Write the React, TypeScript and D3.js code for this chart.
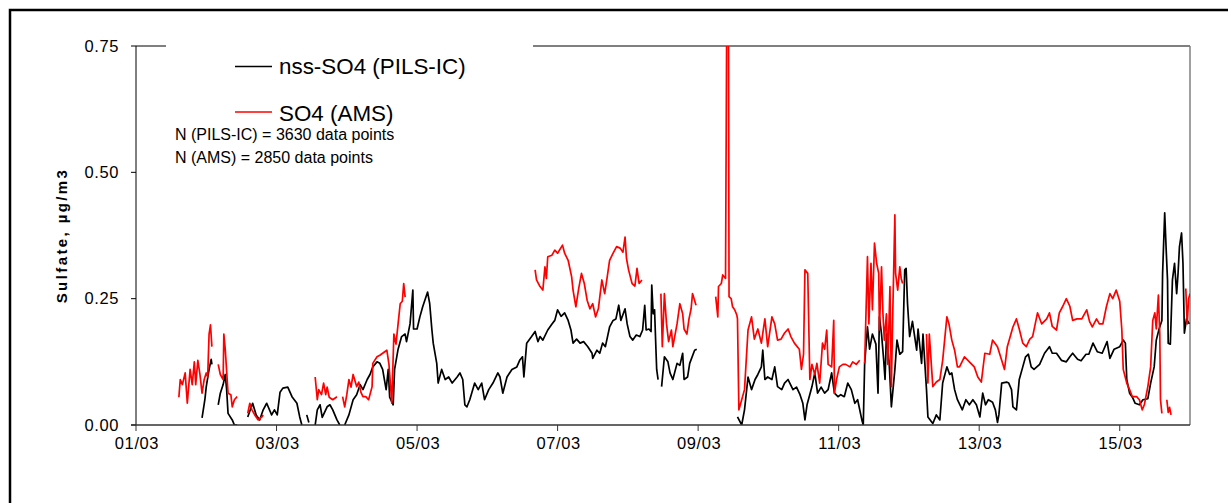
import React from 'react';
import * as d3 from 'd3';

type Pt = [number, number] | null;

// day offsets from 01/03 00:00, value in µg/m3; null = gap
const startDate = Date.UTC(2007, 2, 1);
const endDay = 15;
const yTicks = [0, 0.25, 0.5, 0.75];
const xTickDays = [0, 2, 4, 6, 8, 10, 12, 14];
const seriesNames = ['nss-SO4 (PILS-IC)', 'SO4 (AMS)'];
const seriesColors = ['#000000', '#ff0000'];
const notes = ['N (PILS-IC) = 3630 data points', 'N (AMS) = 2850 data points'];
const yTitle = 'Sulfate, µg/m3';

const pilsIC: Pt[] = [
  [0.94, 0.014], [0.98, 0.05], [1.0, 0.076], [1.04, 0.11], [1.07, 0.13], [1.08, 0.12], null,
  [1.17, 0.04], [1.2, 0.063], [1.24, 0.08], [1.27, 0.1], [1.29, 0.07], [1.31, 0.023], [1.37, 0.01], [1.4, 0.0], [1.44, 0.0], null,
  [1.59, 0.016], [1.66, 0.043], [1.71, 0.02], [1.76, 0.01], [1.81, 0.03], [1.86, 0.043], [1.93, 0.02], [1.97, 0.03], [2.01, 0.02],
  [2.05, 0.065], [2.09, 0.073], [2.16, 0.075], [2.22, 0.056], [2.29, 0.043], [2.33, 0.016], [2.36, 0.0], null,
  [2.43, 0.02], [2.46, 0.005], null,
  [2.55, 0.0], [2.58, 0.03], [2.62, 0.04], [2.65, 0.015], [2.72, 0.036], [2.76, 0.04], [2.8, 0.03], [2.86, 0.01], [2.9, 0.0], null,
  [2.97, 0.0], [3.03, 0.02], [3.09, 0.05], [3.14, 0.06], [3.19, 0.08], [3.23, 0.07], [3.29, 0.09], [3.33, 0.1], [3.37, 0.115],
  [3.43, 0.125], [3.47, 0.122], [3.51, 0.11], [3.56, 0.07], [3.59, 0.11], [3.61, 0.055], [3.66, 0.04], [3.68, 0.11], [3.73, 0.15],
  [3.78, 0.175], [3.83, 0.18], [3.85, 0.165], [3.9, 0.2], [3.94, 0.267], [3.95, 0.19], [4.0, 0.19], [4.04, 0.214], [4.08, 0.234],
  [4.15, 0.263], [4.18, 0.24], [4.21, 0.19], [4.23, 0.162], [4.28, 0.122], [4.3, 0.083], [4.35, 0.11], [4.4, 0.09], [4.45, 0.095],
  [4.5, 0.083], [4.57, 0.095], [4.61, 0.103], [4.65, 0.09], [4.68, 0.04], [4.71, 0.036], [4.75, 0.05], [4.82, 0.083], [4.87, 0.07],
  [4.92, 0.083], [4.96, 0.05], [5.02, 0.07], [5.08, 0.083], [5.15, 0.103], [5.18, 0.095], [5.22, 0.063], [5.28, 0.095], [5.35, 0.11],
  [5.42, 0.115], [5.46, 0.128], [5.5, 0.135], [5.52, 0.095], [5.56, 0.162], [5.63, 0.175], [5.68, 0.185], [5.72, 0.165], [5.75, 0.175],
  [5.79, 0.168], [5.86, 0.188], [5.92, 0.2], [5.96, 0.207], [6.0, 0.228], [6.05, 0.215], [6.1, 0.222], [6.15, 0.207], [6.19, 0.188],
  [6.22, 0.162], [6.27, 0.17], [6.32, 0.162], [6.37, 0.165], [6.43, 0.155], [6.49, 0.142], [6.5, 0.132], [6.56, 0.148], [6.6, 0.142],
  [6.64, 0.162], [6.68, 0.155], [6.74, 0.194], [6.79, 0.207], [6.83, 0.21], [6.87, 0.237], [6.9, 0.207], [6.96, 0.23], [6.99, 0.2],
  [7.03, 0.175], [7.07, 0.168], [7.12, 0.178], [7.17, 0.175], [7.21, 0.188], [7.24, 0.237], [7.26, 0.188], [7.3, 0.19], [7.33, 0.185],
  [7.34, 0.277], [7.36, 0.22], [7.38, 0.228], [7.4, 0.148], [7.41, 0.11], [7.43, 0.09], null,
  [7.48, 0.076], [7.52, 0.135], [7.57, 0.125], [7.6, 0.103], [7.64, 0.09], [7.7, 0.122], [7.74, 0.118], [7.78, 0.142], [7.8, 0.09],
  [7.85, 0.095], [7.88, 0.122], [7.95, 0.148], [7.98, 0.15], null,
  [8.56, 0.016], [8.62, 0.0], [8.66, 0.03], [8.71, 0.095], [8.76, 0.07], [8.81, 0.09], [8.85, 0.1], [8.9, 0.115], [8.92, 0.148],
  [8.95, 0.09], [8.99, 0.095], [9.05, 0.09], [9.09, 0.115], [9.13, 0.076], [9.19, 0.07], [9.23, 0.083], [9.28, 0.09], [9.35, 0.07],
  [9.4, 0.075], [9.45, 0.06], [9.49, 0.043], [9.52, 0.01], [9.55, 0.04], [9.62, 0.076], [9.66, 0.103], [9.7, 0.063], [9.75, 0.075],
  [9.8, 0.063], [9.85, 0.07], [9.9, 0.103], [9.94, 0.063], [9.99, 0.056], [10.03, 0.06], [10.08, 0.056], [10.13, 0.083], [10.18, 0.07],
  [10.23, 0.043], [10.27, 0.05], [10.33, 0.01], [10.35, 0.0], [10.37, 0.122], [10.41, 0.194], [10.44, 0.15], [10.48, 0.18], [10.53, 0.16],
  [10.56, 0.063], [10.58, 0.214], [10.61, 0.18], [10.64, 0.13], [10.66, 0.09], [10.68, 0.18], [10.72, 0.12], [10.75, 0.036], [10.8, 0.11],
  [10.83, 0.168], [10.87, 0.14], [10.91, 0.145], [10.94, 0.307], [10.96, 0.31], [10.98, 0.24], [11.01, 0.175], [11.05, 0.205],
  [11.11, 0.148], [11.13, 0.19], [11.18, 0.122], [11.2, 0.18], [11.25, 0.07], [11.27, 0.016], [11.34, 0.003], [11.39, 0.02], [11.44, 0.01],
  [11.48, 0.083], [11.54, 0.115], [11.58, 0.1], [11.61, 0.103], [11.65, 0.07], [11.69, 0.05], [11.76, 0.03], [11.81, 0.05], [11.86, 0.04],
  [11.91, 0.05], [11.96, 0.04], [12.01, 0.016], [12.05, 0.063], [12.09, 0.04], [12.13, 0.05], [12.19, 0.045], [12.23, 0.03], [12.26, 0.005],
  [12.28, 0.02], [12.32, 0.083], [12.39, 0.085], [12.42, 0.083], [12.46, 0.07], [12.48, 0.036], [12.53, 0.03], [12.57, 0.09], [12.62, 0.115],
  [12.66, 0.135], [12.7, 0.14], [12.74, 0.115], [12.78, 0.11], [12.86, 0.12], [12.93, 0.142], [13.0, 0.155], [13.04, 0.142], [13.1, 0.142],
  [13.17, 0.128], [13.24, 0.125], [13.29, 0.135], [13.33, 0.142], [13.4, 0.13], [13.45, 0.127], [13.52, 0.14], [13.56, 0.14], [13.62, 0.162],
  [13.68, 0.145], [13.75, 0.142], [13.82, 0.165], [13.86, 0.132], [13.92, 0.15], [14.0, 0.155], [14.05, 0.168], [14.08, 0.162], [14.1, 0.09],
  [14.14, 0.063], [14.18, 0.055], [14.22, 0.043], [14.28, 0.04], [14.33, 0.05], [14.4, 0.052], [14.44, 0.083], [14.49, 0.115], [14.52, 0.168],
  [14.56, 0.19], [14.6, 0.207], [14.61, 0.3], [14.64, 0.42], [14.66, 0.35], [14.68, 0.287], [14.69, 0.162], [14.72, 0.16], [14.75, 0.287],
  [14.78, 0.32], [14.81, 0.26], [14.83, 0.3], [14.85, 0.353], [14.88, 0.38], [14.9, 0.32], [14.92, 0.182], [14.95, 0.21], [14.99, 0.2],
];

const ams: Pt[] = [
  [0.61, 0.055], [0.63, 0.09], [0.66, 0.08], [0.7, 0.103], [0.73, 0.043], [0.77, 0.11], [0.8, 0.08], [0.83, 0.125], [0.85, 0.08],
  [0.88, 0.128], [0.91, 0.1], [0.94, 0.063], [0.97, 0.09], [1.0, 0.103], [1.02, 0.095], [1.04, 0.18], [1.06, 0.198], [1.08, 0.155], null,
  [1.17, 0.12], [1.2, 0.1], [1.24, 0.09], [1.25, 0.18], [1.27, 0.15], [1.31, 0.063], [1.35, 0.06], [1.37, 0.036], [1.4, 0.05], [1.44, 0.056], null,
  [1.59, 0.023], [1.62, 0.043], [1.65, 0.03], [1.69, 0.02], [1.74, 0.01], [1.79, 0.016], [1.81, 0.02], null,
  [2.55, 0.095], [2.58, 0.05], [2.6, 0.07], [2.64, 0.06], [2.67, 0.083], [2.7, 0.06], [2.72, 0.075], [2.75, 0.055], [2.8, 0.05], [2.86, 0.056], null,
  [2.94, 0.056], [2.97, 0.036], [3.0, 0.06], [3.03, 0.09], [3.06, 0.075], [3.09, 0.1], [3.14, 0.076], [3.17, 0.085], [3.2, 0.065],
  [3.23, 0.056], [3.27, 0.056], [3.31, 0.05], [3.36, 0.076], [3.37, 0.122], [3.43, 0.135], [3.47, 0.138], [3.51, 0.142], [3.57, 0.148],
  [3.6, 0.12], [3.63, 0.063], [3.64, 0.043], [3.67, 0.18], [3.7, 0.16], [3.73, 0.2], [3.76, 0.24], [3.79, 0.245], [3.81, 0.28], [3.83, 0.253], null,
  [5.68, 0.307], [5.7, 0.287], [5.75, 0.274], [5.79, 0.267], [5.82, 0.313], [5.84, 0.29], [5.86, 0.333], [5.92, 0.336], [5.96, 0.346],
  [6.0, 0.34], [6.07, 0.356], [6.1, 0.34], [6.15, 0.326], [6.2, 0.293], [6.22, 0.267], [6.26, 0.234], [6.3, 0.27], [6.34, 0.3], [6.38, 0.28],
  [6.42, 0.247], [6.46, 0.23], [6.5, 0.24], [6.54, 0.214], [6.58, 0.23], [6.63, 0.287], [6.67, 0.26], [6.7, 0.287], [6.74, 0.326],
  [6.79, 0.34], [6.84, 0.353], [6.89, 0.35], [6.93, 0.342], [6.96, 0.372], [6.98, 0.33], [7.01, 0.307], [7.06, 0.28], [7.1, 0.275],
  [7.13, 0.31], [7.16, 0.28], [7.2, 0.287], null,
  [7.47, 0.26], [7.49, 0.155], [7.52, 0.26], [7.55, 0.2], [7.58, 0.165], [7.62, 0.188], [7.64, 0.155], [7.7, 0.2], [7.74, 0.24], [7.78, 0.22],
  [7.8, 0.19], [7.84, 0.18], [7.87, 0.21], [7.9, 0.23], [7.92, 0.26], [7.97, 0.237], null,
  [8.25, 0.254], [8.28, 0.214], [8.29, 0.274], [8.33, 0.28], [8.35, 0.297], [8.39, 0.29], [8.41, 0.9], [8.43, 0.9], [8.44, 0.254],
  [8.47, 0.25], [8.49, 0.234], [8.52, 0.228], [8.55, 0.218], [8.56, 0.21], [8.58, 0.03], [8.62, 0.05], [8.66, 0.07], [8.71, 0.188],
  [8.76, 0.214], [8.8, 0.17], [8.85, 0.19], [8.9, 0.162], [8.95, 0.21], [8.99, 0.155], [9.05, 0.214], [9.09, 0.2], [9.13, 0.168],
  [9.18, 0.17], [9.23, 0.182], [9.28, 0.19], [9.32, 0.175], [9.37, 0.162], [9.44, 0.15], [9.47, 0.11], [9.5, 0.14], [9.52, 0.307],
  [9.56, 0.3], [9.59, 0.09], [9.62, 0.12], [9.66, 0.1], [9.69, 0.122], [9.73, 0.083], [9.77, 0.162], [9.8, 0.15], [9.83, 0.188],
  [9.85, 0.12], [9.9, 0.115], [9.93, 0.207], [9.94, 0.063], [9.97, 0.09], [10.01, 0.115], [10.06, 0.12], [10.1, 0.12], [10.16, 0.115],
  [10.2, 0.125], [10.25, 0.12], [10.3, 0.128], null,
  [10.37, 0.122], [10.41, 0.333], [10.43, 0.2], [10.46, 0.32], [10.48, 0.228], [10.51, 0.36], [10.54, 0.32], [10.57, 0.3], [10.58, 0.188],
  [10.61, 0.313], [10.63, 0.22], [10.65, 0.168], [10.68, 0.22], [10.7, 0.12], [10.73, 0.274], [10.75, 0.076], [10.77, 0.222], [10.8, 0.416],
  [10.81, 0.3], [10.84, 0.267], [10.87, 0.313], [10.89, 0.29], [10.91, 0.28], null,
  [11.25, 0.18], [11.27, 0.083], [11.29, 0.18], [11.34, 0.076], [11.39, 0.085], [11.44, 0.09], [11.48, 0.128], [11.54, 0.214], [11.57, 0.2],
  [11.61, 0.168], [11.65, 0.148], [11.69, 0.115], [11.72, 0.115], [11.79, 0.135], [11.86, 0.125], [11.93, 0.115], [11.98, 0.095],
  [12.03, 0.085], [12.08, 0.142], [12.15, 0.14], [12.19, 0.168], [12.26, 0.155], [12.32, 0.128], [12.36, 0.11], [12.4, 0.155], [12.48, 0.194],
  [12.53, 0.21], [12.57, 0.19], [12.62, 0.162], [12.67, 0.155], [12.72, 0.17], [12.76, 0.175], [12.83, 0.222], [12.89, 0.2], [12.96, 0.21],
  [13.0, 0.222], [13.04, 0.195], [13.1, 0.188], [13.14, 0.222], [13.19, 0.235], [13.24, 0.25], [13.29, 0.235], [13.33, 0.207], [13.39, 0.21],
  [13.46, 0.21], [13.53, 0.228], [13.57, 0.205], [13.61, 0.194], [13.67, 0.21], [13.71, 0.2], [13.76, 0.2], [13.81, 0.234], [13.86, 0.26],
  [13.9, 0.25], [13.95, 0.267], [14.0, 0.245], [14.03, 0.188], [14.05, 0.11], [14.1, 0.083], [14.14, 0.07], [14.18, 0.056], [14.24, 0.056],
  [14.28, 0.05], [14.32, 0.03], [14.35, 0.04], [14.4, 0.076], [14.44, 0.115], [14.47, 0.207], [14.5, 0.222], [14.52, 0.19], [14.55, 0.257],
  [14.57, 0.18], [14.58, 0.05], [14.6, 0.023], null,
  [14.67, 0.05], [14.69, 0.025], [14.71, 0.035], [14.73, 0.02], null,
  [14.94, 0.27], [14.96, 0.2], [14.98, 0.25], [15.0, 0.26],
];

const FONT = "'Liberation Sans', Arial, Helvetica, sans-serif";

export default function App() {
  const W = 1228;
  const H = 503;
  const left = 136, right = 1190, top = 46, bottom = 425;
  const toDate = (d: number) => new Date(startDate + d * 864e5);
  const x = d3.scaleUtc().domain([toDate(0), toDate(endDay)]).range([left, right]);
  const y = d3.scaleLinear().domain([0, 0.75]).range([bottom, top]);
  const fmtX = d3.utcFormat('%d/%m');
  const fmtY = d3.format('.2f');

  const line = d3
    .line<Pt>()
    .defined((p) => p !== null)
    .x((p) => x(toDate((p as [number, number])[0])))
    .y((p) => y((p as [number, number])[1]));

  const series = [pilsIC, ams];

  return (
    <svg
      width={W}
      height={H}
      style={{ position: 'absolute', left: 0, top: 0, background: '#fff' }}
      fontFamily={FONT}
    >
      <rect x={0} y={0} width={W} height={H} fill="#fff" />
      <defs>
        <clipPath id="plotclip">
          <rect x={left} y={top} width={right - left} height={bottom - top} />
        </clipPath>
      </defs>
      {/* outer frame */}
      <rect x={10} y={10} width={1240} height={520} fill="none" stroke="#000" strokeWidth={2.5} />

      {/* plot frame */}
      <line x1={left} x2={right} y1={top} y2={top} stroke="#000" strokeWidth={1} />
      <line x1={right} x2={right} y1={top} y2={bottom} stroke="#808080" strokeWidth={1.5} />

      {/* data */}
      <g clipPath="url(#plotclip)" fill="none" strokeLinejoin="round">
        {series.map((s, i) => (
          <path key={i} d={line(s) || ''} stroke={seriesColors[i]} strokeWidth={1.7} />
        ))}
      </g>

      {/* y axis */}
      <line x1={left} x2={left} y1={top} y2={bottom} stroke="#000" strokeWidth={1} />
      {yTicks.map((t) => (
        <g key={t}>
          <line x1={left - 5} x2={left} y1={y(t)} y2={y(t)} stroke="#000" strokeWidth={1} />
          <text x={119} y={y(t) + 5.5} textAnchor="end" fontSize={16.5} letterSpacing={0.6} fill="#000">
            {fmtY(t)}
          </text>
        </g>
      ))}

      {/* x axis */}
      <line x1={left - 5} x2={right} y1={bottom} y2={bottom} stroke="#333" strokeWidth={1.5} />
      {xTickDays.map((d) => (
        <g key={d}>
          <line x1={x(toDate(d))} x2={x(toDate(d))} y1={bottom} y2={bottom + 6} stroke="#333" strokeWidth={1} />
          <text x={x(toDate(d)) + 1} y={bottom + 24} textAnchor="middle" fontSize={16.5} letterSpacing={0.6} fill="#000">
            {fmtX(toDate(d))}
          </text>
        </g>
      ))}

      {/* y title */}
      <text
        transform={`translate(67, ${(top + bottom) / 2}) rotate(-90)`}
        textAnchor="middle"
        fontSize={15}
        fontWeight="bold"
        letterSpacing={2.4}
        fill="#000"
      >
        {yTitle}
      </text>

      {/* legend */}
      <rect x={166} y={40} width={367} height={130} fill="#fff" />
      {seriesNames.map((n, i) => (
        <g key={n}>
          <line x1={235} x2={272} y1={66.5 + i * 45.5} y2={66.5 + i * 45.5} stroke={seriesColors[i]} strokeWidth={1.5} />
          <text x={279} y={74 + i * 46.5} fontSize={22.4} fill="#000">
            {n}
          </text>
        </g>
      ))}
      {notes.map((n, i) => (
        <text key={n} x={175} y={140 + i * 22.7} fontSize={16} fill="#000">
          {n}
        </text>
      ))}
    </svg>
  );
}
